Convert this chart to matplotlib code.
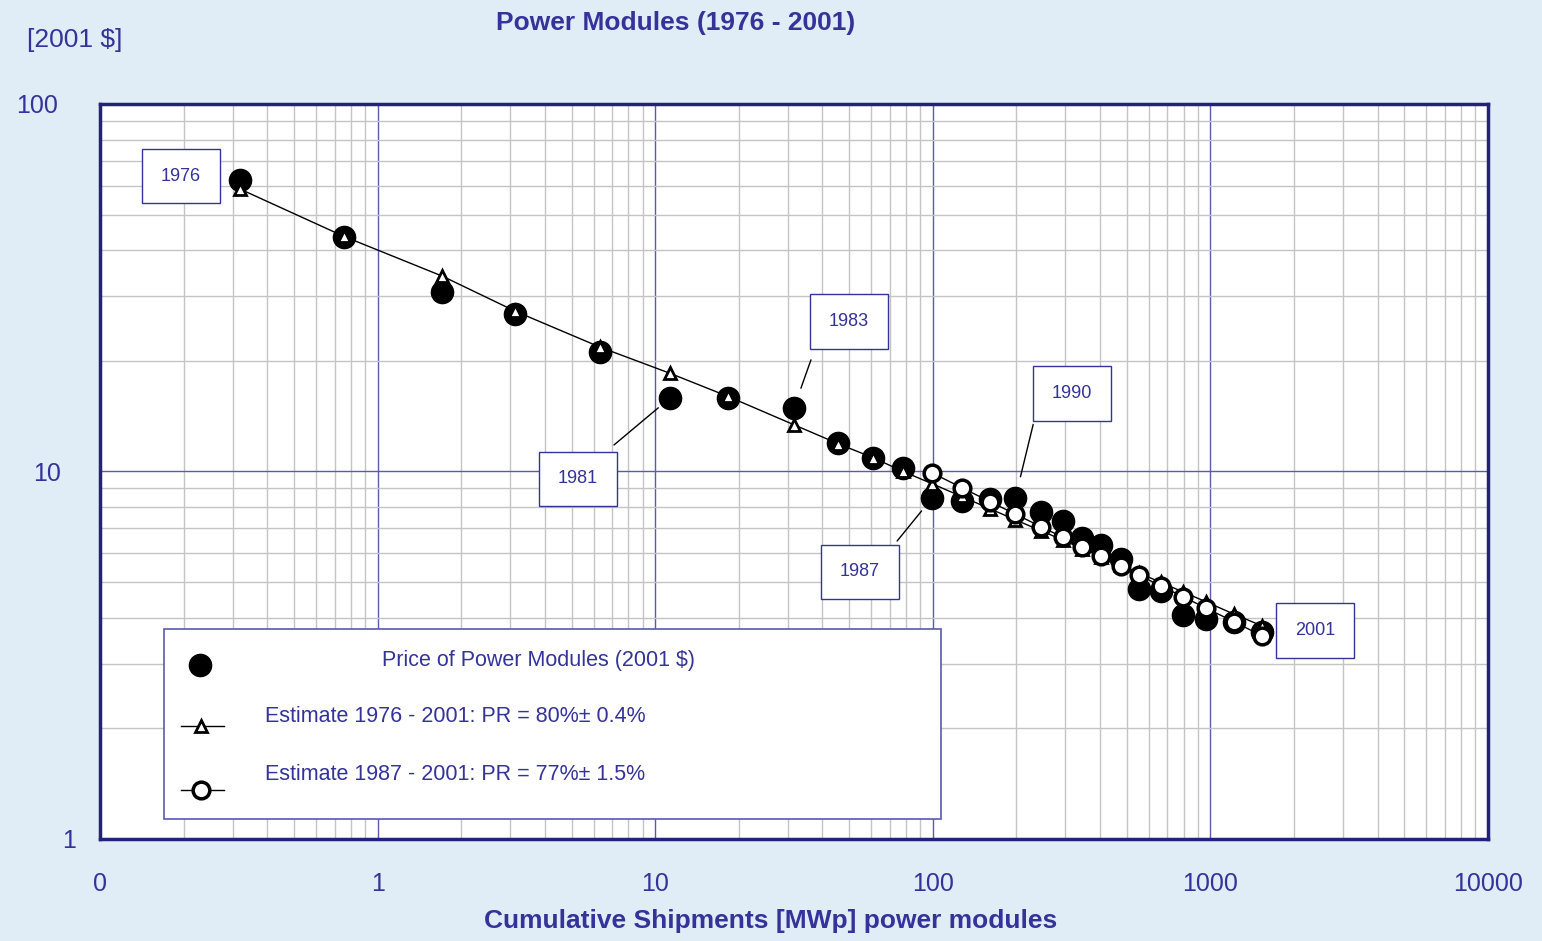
import matplotlib
matplotlib.use("Agg")
import matplotlib.pyplot as plt
from matplotlib.ticker import FixedLocator, LogLocator, NullFormatter
from matplotlib.patches import Rectangle

plt.rcParams['font.family'] = ['Liberation Sans', 'DejaVu Sans']

# cumulative shipments [MWp], one value per year 1976..2001
years = list(range(1976, 2002))
shipments = [0.319, 0.757, 1.71, 3.13, 6.32, 11.3, 18.3, 31.6, 45.6, 60.9,
             78.2, 99.4, 127, 161, 198, 245, 294, 345, 403, 476,
             553, 664, 797, 964, 1216, 1535]
# price of power modules [2001 $/Wp]
price = [62.1, 43.5, 30.8, 26.8, 21.1, 15.85, 15.85, 14.9, 11.96, 10.9,
         10.2, 8.47, 8.3, 8.4, 8.45, 7.76, 7.33, 6.59, 6.31, 5.78,
         4.79, 4.74, 4.07, 3.97, 3.9, 3.66]
# fitted estimate 1976 - 2001 (PR = 80%)
est_1976 = [58.7, 43.6, 34.0, 27.3, 21.8, 18.5, 16.0, 13.4, 11.9, 10.9,
            10.0, 9.26, 8.55, 7.91, 7.39, 6.90, 6.51, 6.17, 5.87, 5.56,
            5.29, 4.99, 4.70, 4.42, 4.09, 3.80]
# fitted estimate 1987 - 2001 (PR = 77%)
ship_1987 = shipments[11:]
est_1987 = [9.91, 9.04, 8.27, 7.66, 7.08, 6.62, 6.23, 5.88, 5.52, 5.22,
            4.88, 4.56, 4.25, 3.90, 3.57]

# labelled years: (year, box offset px, leader start px, leader shrink pt)
labels = [
    (1976, (-59, 4), None, 0),
    (1981, (-92, -81), (-56, -47), 11),
    (1983, (55, 86), (17, 48), 15),
    (1987, (-72, -74), (-35, -43), 12),
    (1990, (57, 105), (18, 74), 16),
    (2001, (53, 1), None, 0),
]

text_col = '#333399'
bg = '#e0edf7'
px = 0.72  # points per pixel at dpi 100

fig = plt.figure(figsize=(15.42, 9.41), dpi=100, facecolor=bg)
ax = fig.add_axes([0.0649, 0.1084, 0.9001, 0.7811])
ax.set_facecolor('white')
ax.set_xscale('log')
ax.set_yscale('log')
ax.set_xlim(0.1, 10000)
ax.set_ylim(1, 100)

ax.xaxis.set_major_locator(FixedLocator([0.1, 1, 10, 100, 1000, 10000]))
ax.yaxis.set_major_locator(FixedLocator([1, 10, 100]))
ax.xaxis.set_minor_locator(LogLocator(base=10, subs=range(2, 10)))
ax.yaxis.set_minor_locator(LogLocator(base=10, subs=range(2, 10)))
ax.xaxis.set_minor_formatter(NullFormatter())
ax.yaxis.set_minor_formatter(NullFormatter())
ax.set_xticklabels(['0', '1', '10', '100', '1000', '10000'])
ax.set_yticklabels(['1', '10', '100'])
ax.tick_params(which='both', length=0, labelsize=18, labelcolor=text_col)
ax.tick_params(axis='x', pad=24)
for tk, p in zip(ax.yaxis.get_major_ticks(), [17, 28, 30]):
    tk.set_pad(p)

ax.grid(which='minor', color='#c4c4c4', lw=1)
ax.grid(which='major', color='#5a5ab0', lw=1)
ax.set_axisbelow(True)
for s in ax.spines.values():
    s.set_color('#22227a')
    s.set_linewidth(2.5)

ax.plot(shipments, price, 'o', color='black', ms=16, zorder=3)
ax.plot(shipments, est_1976, '-^', color='black', lw=1, ms=9,
        mfc='white', mec='black', mew=2, zorder=4)
ax.plot(ship_1987, est_1987, '-o', color='black', lw=1, ms=12,
        mfc='white', mec='black', mew=2.5, zorder=5)

for yr, off, start, shrink in labels:
    i = years.index(yr)
    pt = (shipments[i], price[i])
    if start is not None:
        ax.annotate('', xy=pt, xytext=(start[0] * px, start[1] * px),
                    textcoords='offset points',
                    arrowprops=dict(arrowstyle='-', color='black', lw=1,
                                    shrinkA=0, shrinkB=shrink), zorder=6)
    ax.annotate(str(yr), xy=pt, xytext=(off[0] * px, off[1] * px),
                textcoords='offset points', ha='center', va='center',
                fontsize=13, color=text_col, zorder=7,
                bbox=dict(boxstyle='square,pad=1.05', fc='white',
                          ec=text_col, lw=1))

# legend box
ax.add_patch(Rectangle((0.0461, 0.0272), 0.5598, 0.2585, transform=ax.transAxes,
                       fc='white', ec='#5a5ab0', lw=1.2, zorder=8))
ax.plot([0.072], [0.2367], 'o', color='black', ms=16, transform=ax.transAxes,
        zorder=9, clip_on=False)
ax.plot([0.0584, 0.0893], [0.1537, 0.1537], '-', color='black', lw=1,
        transform=ax.transAxes, zorder=9)
ax.plot([0.0728], [0.1537], '^', ms=9, mfc='white', mec='black', mew=2,
        transform=ax.transAxes, zorder=10)
ax.plot([0.0584, 0.0893], [0.0667, 0.0667], '-', color='black', lw=1,
        transform=ax.transAxes, zorder=9)
ax.plot([0.0728], [0.0667], 'o', ms=12, mfc='white', mec='black', mew=2.5,
        transform=ax.transAxes, zorder=10)
ax.text(0.2032, 0.2435, 'Price of Power Modules (2001 $)', transform=ax.transAxes,
        fontsize=15.5, color=text_col, va='center', zorder=10)
ax.text(0.1189, 0.1673, 'Estimate 1976 - 2001: PR = 80%\u00b1 0.4%',
        transform=ax.transAxes, fontsize=15.5, color=text_col, va='center', zorder=10)
ax.text(0.1189, 0.0884, 'Estimate 1987 - 2001: PR = 77%\u00b1 1.5%',
        transform=ax.transAxes, fontsize=15.5, color=text_col, va='center', zorder=10)

fig.text(676 / 1542, 1 - 23 / 941, 'Power Modules (1976 - 2001)', ha='center',
         va='center', fontsize=19, fontweight='bold', color=text_col)
fig.text(75 / 1542, 1 - 40 / 941, '[2001 $]', ha='center', va='center',
         fontsize=19, color=text_col)
fig.text(771 / 1542, 1 - 921 / 941, 'Cumulative Shipments [MWp] power modules',
         ha='center', va='center', fontsize=19, fontweight='bold', color=text_col)

fig.savefig('out.png', dpi=100, facecolor=bg)
